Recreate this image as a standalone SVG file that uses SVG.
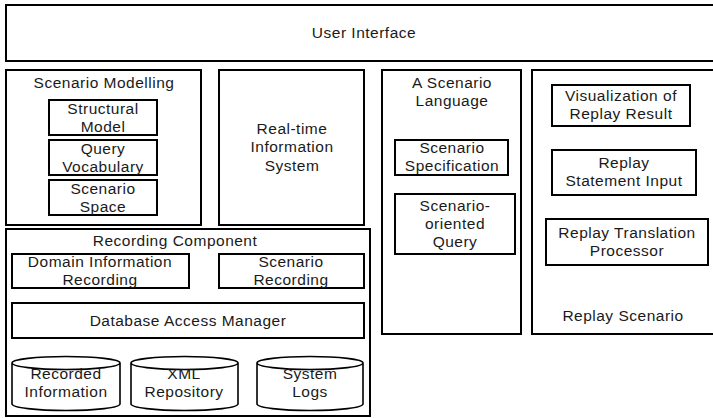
<svg xmlns="http://www.w3.org/2000/svg" width="713" height="418" viewBox="0 0 713 418">
  <style>
    .box { fill: #fff; stroke: #000; stroke-width: 2; }
    .db { fill: #fff; stroke: #000; stroke-width: 1.6; }
    text { font-family: "Liberation Sans", Arial, sans-serif; font-size: 15.5px; letter-spacing: 0.5px; fill: #1a1a1a; text-anchor: middle; }
  </style>
  <rect width="713" height="418" fill="#fff"/>

  <g id="user-interface">
    <rect class="box" x="6" y="5" width="712" height="56"/>
    <text x="364" y="38">User Interface</text>
  </g>

  <g id="scenario-modelling">
    <rect class="box" x="6" y="70" width="195" height="155"/>
    <text x="104" y="88">Scenario Modelling</text>
    <g id="structural-model">
      <rect class="box" x="49" y="100" width="108" height="35"/>
      <text x="103" y="114">Structural</text>
      <text x="103" y="132">Model</text>
    </g>
    <g id="query-vocabulary">
      <rect class="box" x="49" y="140" width="108" height="35"/>
      <text x="103" y="154">Query</text>
      <text x="103" y="172">Vocabulary</text>
    </g>
    <g id="scenario-space">
      <rect class="box" x="49" y="180" width="108" height="35"/>
      <text x="103" y="194">Scenario</text>
      <text x="103" y="212">Space</text>
    </g>
  </g>

  <g id="realtime-info">
    <rect class="box" x="219" y="70" width="145" height="155"/>
    <text x="292" y="134">Real-time</text>
    <text x="292" y="152">Information</text>
    <text x="292" y="171">System</text>
  </g>

  <g id="scenario-language">
    <rect class="box" x="382" y="70" width="139" height="264"/>
    <text x="452" y="88">A Scenario</text>
    <text x="452" y="106">Language</text>
    <g id="scenario-specification">
      <rect class="box" x="395" y="140" width="113" height="35"/>
      <text x="452" y="153">Scenario</text>
      <text x="452" y="171">Specification</text>
    </g>
    <g id="scenario-query">
      <rect class="box" x="395" y="194" width="120" height="60"/>
      <text x="455" y="211">Scenario-</text>
      <text x="455" y="229">oriented</text>
      <text x="455" y="247">Query</text>
    </g>
  </g>

  <g id="replay-scenario">
    <rect class="box" x="532" y="70" width="190" height="264"/>
    <text x="623" y="321">Replay Scenario</text>
    <g id="replay-visualization">
      <rect class="box" x="552" y="85" width="138" height="41"/>
      <text x="621" y="101">Visualization of</text>
      <text x="621" y="119">Replay Result</text>
    </g>
    <g id="replay-input">
      <rect class="box" x="552" y="150" width="144" height="45"/>
      <text x="624" y="168">Replay</text>
      <text x="624" y="186">Statement Input</text>
    </g>
    <g id="replay-translation">
      <rect class="box" x="546" y="219" width="162" height="46"/>
      <text x="627" y="238">Replay Translation</text>
      <text x="627" y="256">Processor</text>
    </g>
  </g>

  <g id="recording-component">
    <rect class="box" x="6" y="229" width="364" height="187"/>
    <text x="175" y="246">Recording Component</text>
    <g id="domain-recording">
      <rect class="box" x="12" y="254" width="177" height="34"/>
      <text x="100" y="267">Domain Information</text>
      <text x="100" y="285">Recording</text>
    </g>
    <g id="scenario-recording">
      <rect class="box" x="219" y="254" width="145" height="34"/>
      <text x="291" y="267">Scenario</text>
      <text x="291" y="285">Recording</text>
    </g>
    <g id="db-access-manager">
      <rect class="box" x="12" y="303" width="352" height="35"/>
      <text x="188" y="326">Database Access Manager</text>
    </g>
    <g id="recorded-information">
      <path class="db" d="M12,363 A54,6.5 0 0,1 120,363 V404 A54,6.5 0 0,1 12,404 Z M12,363 A54,6.5 0 0,0 120,363"/>
      <text x="66" y="379">Recorded</text>
      <text x="66" y="397">Information</text>
    </g>
    <g id="xml-repository">
      <path class="db" d="M131,363 A53.5,6.5 0 0,1 238,363 V404 A53.5,6.5 0 0,1 131,404 Z M131,363 A53.5,6.5 0 0,0 238,363"/>
      <text x="184" y="379">XML</text>
      <text x="184" y="397">Repository</text>
    </g>
    <g id="system-logs">
      <path class="db" d="M257,363 A53,6.5 0 0,1 363,363 V404 A53,6.5 0 0,1 257,404 Z M257,363 A53,6.5 0 0,0 363,363"/>
      <text x="310" y="379">System</text>
      <text x="310" y="397">Logs</text>
    </g>
  </g>
</svg>
